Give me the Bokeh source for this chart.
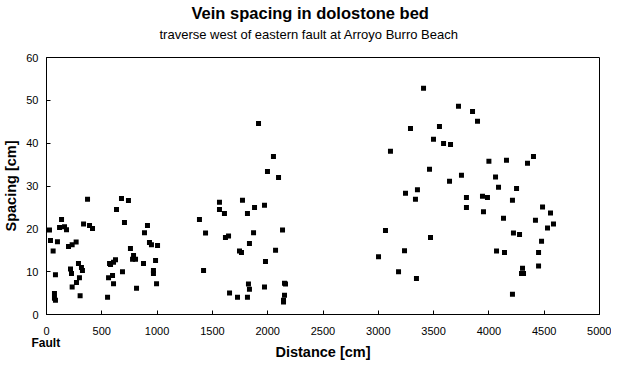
from bokeh.plotting import figure
from bokeh.models import FixedTicker, Title
from bokeh.embed import file_html
from bokeh.resources import INLINE

# Distance [cm] and spacing [cm]
distance = [27, 36, 60, 99, 81, 72, 72, 81, 136, 118, 163, 181, 199, 232, 268, 217, 226, 232, 271, 289,
            316, 325, 298, 304, 335, 371, 389, 416, 552, 561, 570, 579, 597, 606, 624, 606, 633, 678, 741, 705,
            687, 759, 787, 778, 805, 814, 877, 886, 913, 931, 949, 1004, 986, 967, 967, 995,
            1383, 1420, 1438, 1564, 1564, 1609, 1618, 1646, 1655, 1727, 1745, 1763, 1772, 1817, 1817, 1826,
            1835, 1835, 1872, 1881, 1917, 1971, 1971, 1980, 1998, 2052, 2071, 2098, 2134, 2143, 2143, 2152,
            2152, 2161,
            3002, 3065, 3110, 3183, 3237, 3246, 3291, 3336, 3345, 3354, 3409, 3463, 3472, 3499, 3553, 3590,
            3644, 3653, 3725, 3752, 3797, 3797, 3852, 3897, 3942, 3951, 3987, 4000, 4060, 4069, 4087, 4132,
            4141, 4159, 4213, 4213, 4222, 4250, 4277, 4295, 4304, 4313, 4349, 4403, 4421, 4449, 4449, 4476,
            4485, 4530, 4557, 4584]
spacing = [19.7, 17.3, 14.8, 17.0, 9.3, 4.9, 3.8, 3.3, 22.2, 20.3, 20.5, 19.8, 15.9, 16.3, 16.9, 10.6, 9.6, 6.4, 7.5, 11.9,
           11.0, 10.3, 8.6, 4.4, 21.1, 26.9, 20.8, 20.1, 4.0, 8.6, 11.9, 11.7, 9.1, 12.2, 12.8, 7.2, 24.5, 27.1, 26.6, 21.5,
           10.0, 15.4, 13.8, 12.9, 12.9, 6.1, 11.9, 19.1, 20.8, 16.8, 16.3, 16.1, 12.6, 10.3, 9.6, 7.2,
           22.2, 10.3, 19.0, 26.2, 24.5, 23.6, 18.0, 18.3, 5.0, 4.0, 14.8, 14.5, 26.7, 23.6, 4.0, 7.1,
           5.9, 16.6, 19.1, 25.0, 44.6, 25.5, 6.4, 12.4, 33.4, 36.9, 15.0, 32.0, 19.7, 3.3, 2.9, 4.5,
           7.3, 7.1,
           13.5, 19.6, 38.1, 10.0, 14.9, 28.3, 43.4, 26.9, 8.4, 29.1, 52.8, 33.9, 18.0, 40.9, 43.9, 39.9,
           31.1, 39.7, 48.6, 32.5, 27.3, 25.0, 47.4, 45.1, 27.6, 24.0, 27.3, 35.8, 32.1, 14.8, 29.7, 22.5,
           14.5, 36.0, 26.7, 4.7, 19.0, 29.4, 18.7, 9.6, 10.8, 9.6, 35.3, 36.9, 22.0, 14.5, 11.3, 17.1,
           25.1, 20.2, 23.7, 21.1]

x_ticks = [0, 500, 1000, 1500, 2000, 2500, 3000, 3500, 4000, 4500, 5000]
y_ticks = [0, 10, 20, 30, 40, 50, 60]

FONT = "Liberation Sans"

p = figure(frame_width=553, frame_height=257, output_backend="svg", toolbar_location=None,
           x_range=(0, 5000), y_range=(0, 60),
           min_border_left=39, min_border_right=12, min_border_top=0, min_border_bottom=0)
p.background_fill_color = "white"
p.border_fill_color = "white"
p.outline_line_color = "black"
p.outline_line_width = 1
p.grid.visible = False

p.scatter(distance, spacing, marker="square", size=5, fill_color="black", line_color=None)

for ax in (p.xaxis[0], p.yaxis[0]):
    ax.axis_line_color = "black"
    ax.major_tick_in = 4
    ax.major_tick_out = 0
    ax.minor_tick_in = 0
    ax.minor_tick_out = 0
    ax.minor_tick_line_color = None
    ax.major_label_text_font = FONT
    ax.major_label_text_font_size = "11px"
    ax.major_label_text_color = "black"
    ax.axis_label_text_font = FONT
    ax.axis_label_text_font_style = "bold"
    ax.axis_label_text_font_size = "14.5px"
    ax.axis_label_text_color = "black"

p.xaxis.ticker = FixedTicker(ticks=x_ticks)
p.yaxis.ticker = FixedTicker(ticks=y_ticks)
p.xaxis.major_label_standoff = 12
p.yaxis.axis_label = "Spacing [cm]"
p.yaxis.major_label_standoff = 8
p.yaxis.axis_label_standoff = 4

# below the numbers: "Fault" under the origin, the x axis title, then a small spacer
p.add_layout(Title(text="Fault", align="left", vertical_align="top", offset=-15, standoff=-3,
                   text_font=FONT, text_font_size="12px", text_font_style="bold",
                   text_color="black"), "below")
p.add_layout(Title(text="Distance [cm]", align="center", vertical_align="top", standoff=-14,
                   text_font=FONT, text_font_size="14.5px", text_font_style="bold",
                   text_color="black"), "below")
p.add_layout(Title(text=" ", text_font_size="1px", standoff=4), "below")

# above the frame: title, subtitle and a spacer
p.add_layout(Title(text=" ", text_font_size="1px", standoff=11), "above")
p.add_layout(Title(text="traverse west of eastern fault at Arroyo Burro Beach", align="left",
                   text_font=FONT, text_font_size="13px", text_font_style="normal",
                   text_color="black", offset=113, standoff=3), "above")
p.add_layout(Title(text="Vein spacing in dolostone bed", align="left",
                   text_font=FONT, text_font_size="16.5px", text_font_style="bold",
                   text_color="black", offset=145, standoff=3), "above")

open("out.html", "w").write(file_html(p, INLINE))
